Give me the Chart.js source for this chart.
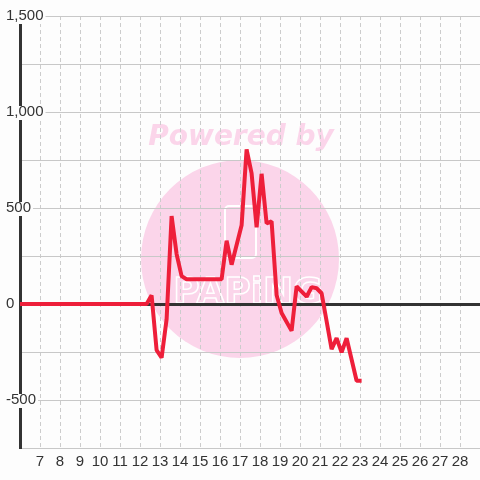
<!DOCTYPE html>
<html>
<head>
<meta charset="utf-8">
<script src="https://cdn.jsdelivr.net/npm/chart.js@4.4.1/dist/chart.umd.min.js"></script>
<style>
html,body{margin:0;padding:0;background:#fdfdfd;}
canvas{display:block;}
</style>
</head>
<body>
<canvas id="c" width="480" height="480"></canvas>
<script>
// Data
const xValues = [6, 12.33, 12.58, 12.83, 13.08, 13.33, 13.58, 13.83, 14.08, 14.33, 16.08, 16.33, 16.58, 17.08, 17.33, 17.58, 17.83, 18.08, 18.33, 18.58, 18.83, 19.08, 19.58, 19.83, 20.33, 20.58, 20.83, 21.08, 21.58, 21.83, 22.08, 22.33, 22.83, 23.08];
const yValues = [0, 0, 45, -240, -280, -80, 458, 260, 145, 129, 129, 330, 205, 410, 805, 680, 400, 678, 420, 430, 47, -47, -140, 92, 38, 88, 82, 56, -235, -178, -252, -178, -400, -400];
const xTickLabels = [7,8,9,10,11,12,13,14,15,16,17,18,19,20,21,22,23,24,25,26,27,28];
const yTickLabels = [1500, 1000, 500, 0, -500];

const BG = '#fdfdfd';
const points = xValues.map((x, i) => ({x: x, y: yValues[i]}));

const watermark = {
  id: 'watermark',
  beforeDraw(chart) {
    const ctx = chart.ctx;
    ctx.save();
    ctx.fillStyle = '#fbd5ea';
    ctx.beginPath();
    ctx.arc(240, 259, 99, 0, Math.PI * 2);
    ctx.fill();
    ctx.font = 'italic bold 28px "DejaVu Sans"';
    ctx.textAlign = 'center';
    ctx.textBaseline = 'alphabetic';
    ctx.fillText('Powered by', 241, 145);
    ctx.strokeStyle = '#ffffff';
    ctx.lineWidth = 2;
    ctx.beginPath();
    ctx.roundRect(225, 206, 31, 52, 4);
    ctx.stroke();
    ctx.font = 'bold 36px "DejaVu Sans"';
    ctx.lineWidth = 1.5;
    ctx.strokeText('PAPiNG', 248, 303);
    ctx.restore();
  }
};

new Chart(document.getElementById('c'), {
  type: 'line',
  data: {
    datasets: [{
      data: points,
      borderColor: '#ee1f3a',
      borderWidth: 4,
      pointRadius: 0,
      tension: 0,
      fill: false,
      borderJoinStyle: 'bevel'
    }]
  },
  options: {
    responsive: false,
    animation: false,
    events: [],
    plugins: { legend: { display: false }, tooltip: { enabled: false } },
    layout: { autoPadding: false, padding: { left: 20, top: 16, right: 0, bottom: 0 } },
    scales: {
      x: {
        type: 'linear',
        min: 6,
        max: 29,
        afterFit(s) { s.height = 32; s.paddingLeft = 0; s.paddingRight = 0; },
        ticks: {
          stepSize: 1,
          autoSkip: false,
          maxRotation: 0,
          padding: 5,
          color: '#333',
          font: { family: '"Liberation Sans", Arial, sans-serif', size: 15 },
          callback: v => xTickLabels.includes(v) ? String(v) : ''
        },
        grid: { color: '#cccccc', lineWidth: 1, drawTicks: false },
        border: { display: false, dash: [4, 3] }
      },
      y: {
        min: -750,
        max: 1500,
        afterFit(s) { s.width = 0; s.paddingTop = 0; s.paddingBottom = 0; },
        ticks: {
          stepSize: 250,
          mirror: true,
          padding: -14,
          crossAlign: 'near',
          showLabelBackdrop: true,
          backdropColor: BG,
          backdropPadding: { top: -3, bottom: -1, left: 2, right: 2 },
          color: '#333',
          font: { family: '"Liberation Sans", Arial, sans-serif', size: 15 },
          callback: v => yTickLabels.includes(v) ? v.toLocaleString('en-US') : ''
        },
        grid: {
          drawTicks: false,
          color: c => (c.tick && c.tick.value === 0) ? '#333333' : '#c8c8c8',
          lineWidth: c => (c.tick && c.tick.value === 0) ? 3 : 1
        },
        border: { color: '#333333', width: 3 }
      }
    }
  },
  plugins: [watermark]
});
</script>
</body>
</html>
